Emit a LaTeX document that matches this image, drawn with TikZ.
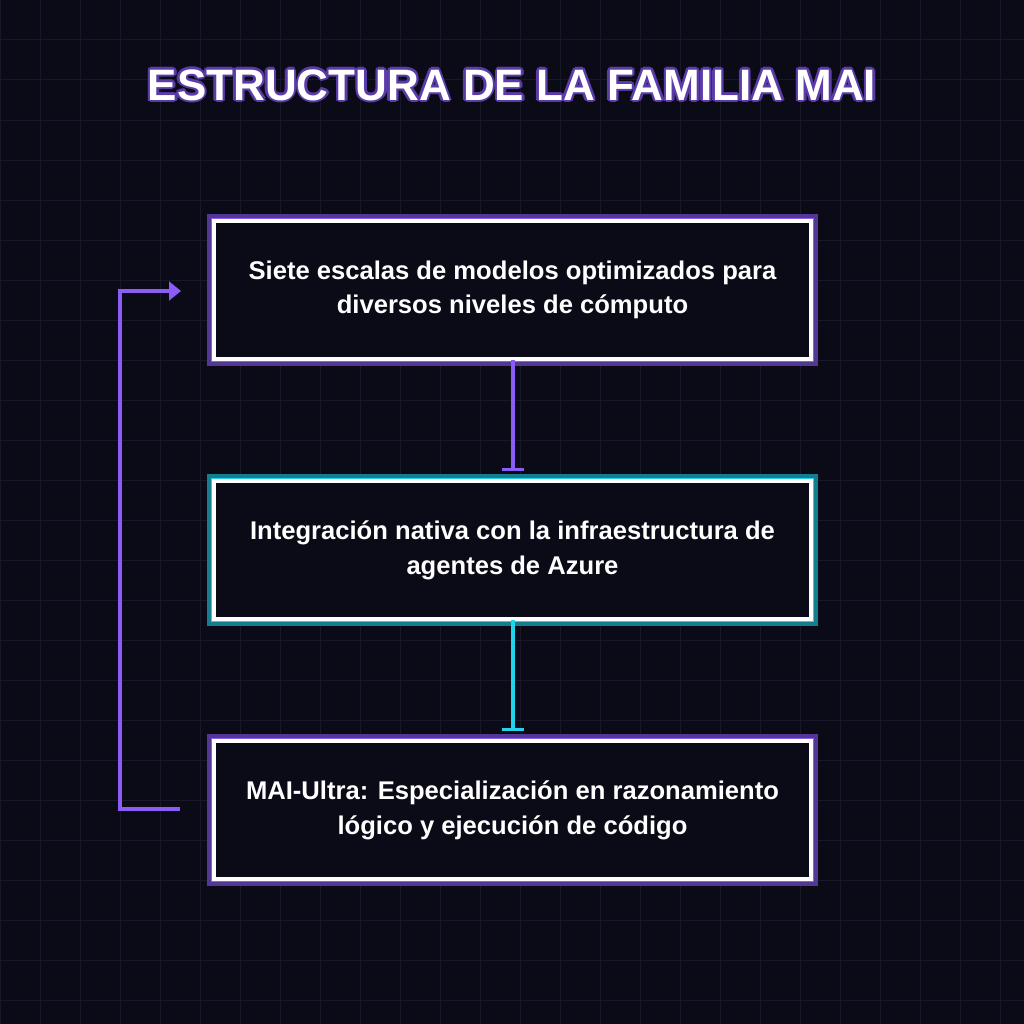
\documentclass[tikz,border=0pt]{standalone}
\usepackage{fontspec}
\setmainfont{Liberation Sans}
\usetikzlibrary{arrows.meta}
\definecolor{bg}{HTML}{0B0B18}
\definecolor{gridc}{HTML}{181828}
\definecolor{purp}{HTML}{8B5CF6}
\definecolor{dpurp}{HTML}{5B3BA8}
\definecolor{cyanc}{HTML}{22D3EE}
\tikzset{
  boxtxt/.style={text=white, font=\bfseries\fontsize{19.2}{26}\selectfont, align=center},
  titletxt/.style={font=\bfseries\fontsize{33}{40}\selectfont},
  conn/.style={line width=2.5pt, -{Bar[width=16pt,line width=2pt]}},
}
\newcommand{\mybox}[6]{% name, x1,y1,x2,y2, color
  \fill[black] (#2,#3) rectangle (#4,#5);
  \draw[#6!60!black, line width=4pt] (#2+3,#3+3) rectangle (#4-3,#5-3);
  \draw[#6, line width=2pt] (#2+5,#3+5) rectangle (#4-5,#5-5);
  \fill[bg] (#2+7,#3+7) rectangle (#4-7,#5-7);
  \draw[white, line width=3pt] (#2+7,#3+7) rectangle (#4-7,#5-7);
  \node (#1) at ({(#2+#4)/2},{(#3+#5)/2}) [minimum width={#4-#2}, minimum height={#5-#3}] {};
}
\begin{document}
\begin{tikzpicture}[x=0.75pt,y=-0.75pt]
\useasboundingbox (0,0) rectangle (1024,1024);
\fill[bg] (0,0) rectangle (1024,1024);
\foreach \i in {0,40,...,1000} {
  \draw[gridc, line width=0.75pt] (\i,0) -- (\i,1024);
  \draw[gridc, line width=0.75pt] (0,\i) -- (1024,\i);
}
% title outline
\foreach \dx/\dy in {-2.5/0,2.5/0,0/-2.5,0/2.5,-1.8/-1.8,1.8/1.8,-1.8/1.8,1.8/-1.8}
  \node[text=dpurp, titletxt] at (512+\dx,85+\dy) {ESTRUCTURA DE LA FAMILIA MAI};
\node (title) [text=white, titletxt] at (512,85) {ESTRUCTURA DE LA FAMILIA MAI};
\mybox{b1}{207}{214}{818}{366}{purp}
\mybox{b2}{207}{474}{818}{626}{cyanc}
\mybox{b3}{207}{734}{818}{886}{purp}
\node[boxtxt] at (b1) {Siete escalas de modelos optimizados para\\diversos niveles de cómputo};
\node[boxtxt] at (b2) {Integración nativa con la infraestructura de\\agentes de Azure};
\node[boxtxt] at (b3) {MAI-Ultra: Especialización en razonamiento\\lógico y ejecución de código};
\coordinate (c1) at (513,360);
\coordinate (c1e) at (513,471);
\coordinate (c2) at (513,620);
\coordinate (c2e) at (513,731);
\draw[conn, purp] (c1) -- (c1e);
\draw[conn, cyanc] (c2) -- (c2e);
\coordinate (f0) at (180,809);
\coordinate (f1) at (181,291);
\draw[purp, line width=2.5pt, -{Triangle[length=9pt,width=14pt]}] (f0) -- (120,809) -- (120,291) -- (f1);
\end{tikzpicture}
\end{document}
